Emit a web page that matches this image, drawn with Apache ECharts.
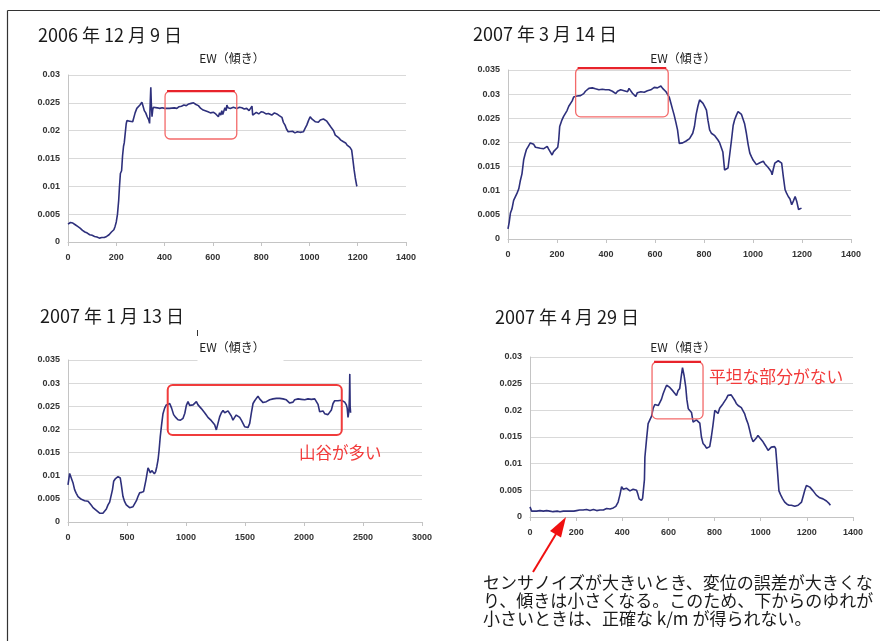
<!DOCTYPE html>
<html>
<head>
<meta charset="utf-8">
<script src="https://cdn.jsdelivr.net/npm/echarts@6/dist/echarts.min.js"></script>
<style>
html, body { margin: 0; padding: 0; background: #fff; }
#chart { width: 880px; height: 641px; }
</style>
</head>
<body>
<div id="chart"></div>
<script>
// EW slope traces, [sample index, slope]
const ew20061209 = [[0,0.0032],[5,0.0034],[10,0.0035],[15,0.0033],[20,0.0034],[30,0.0031],[40,0.0028],[50,0.0025],[60,0.0021],[70,0.0018],[80,0.0016],[90,0.0013],[100,0.0012],[110,0.001],[120,0.0009],[130,0.0007],[140,0.0008],[150,0.0008],[160,0.001],[170,0.0013],[180,0.0018],[190,0.0022],[195,0.0028],[200,0.0036],[205,0.005],[210,0.0075],[213,0.0098],[217,0.0123],[222,0.0128],[226,0.0155],[230,0.0172],[233,0.0178],[237,0.0195],[241,0.0212],[244,0.0218],[250,0.0215],[256,0.0217],[262,0.0214],[268,0.0216],[272,0.0218],[278,0.0232],[285,0.024],[292,0.0238],[298,0.0246],[306,0.0251],[311,0.0244],[316,0.0236],[322,0.0232],[328,0.0225],[334,0.022],[338,0.0213],[341,0.0255],[343,0.0278],[345,0.025],[348,0.0225],[351,0.0238],[354,0.0242],[360,0.0239],[370,0.0241],[380,0.024],[390,0.0241],[400,0.024],[420,0.024],[440,0.0241],[451,0.024],[460,0.0243],[470,0.0244],[480,0.0246],[490,0.0245],[500,0.0248],[510,0.0249],[520,0.025],[530,0.0247],[540,0.0245],[550,0.024],[560,0.0237],[568,0.0235],[580,0.0234],[590,0.0232],[603,0.0233],[612,0.023],[623,0.0225],[628,0.0232],[633,0.0228],[637,0.0236],[641,0.0229],[644,0.023],[650,0.0241],[655,0.0236],[658,0.0246],[663,0.0241],[668,0.0244],[672,0.024],[680,0.0241],[685,0.0242],[692,0.0239],[699,0.024],[710,0.0242],[720,0.0241],[730,0.0239],[740,0.024],[750,0.0236],[758,0.0235],[762,0.0244],[765,0.0228],[770,0.023],[780,0.0233],[790,0.023],[800,0.0234],[810,0.0233],[820,0.023],[830,0.0231],[844,0.0228],[855,0.0232],[865,0.023],[875,0.0227],[886,0.0224],[892,0.0215],[899,0.021],[905,0.0203],[912,0.0198],[920,0.0197],[930,0.0199],[940,0.0196],[950,0.0198],[961,0.0197],[968,0.02],[975,0.0198],[982,0.0204],[989,0.021],[996,0.0218],[1003,0.0225],[1010,0.0221],[1017,0.022],[1025,0.0216],[1031,0.0218],[1037,0.0215],[1045,0.0219],[1052,0.0217],[1058,0.0221],[1065,0.022],[1072,0.0217],[1079,0.0215],[1088,0.0207],[1100,0.02],[1107,0.0192],[1114,0.019],[1122,0.0187],[1130,0.0183],[1141,0.018],[1150,0.0178],[1156,0.0174],[1162,0.0175],[1168,0.017],[1175,0.0165],[1180,0.0148],[1185,0.013],[1190,0.0115],[1196,0.0101],[1198,0.01]];

const ew20070314 = [[0,0.0021],[5,0.0035],[10,0.0054],[16,0.0062],[23,0.008],[30,0.0084],[37,0.0095],[44,0.0104],[50,0.012],[57,0.0135],[64,0.0164],[70,0.0176],[75,0.0185],[83,0.0192],[91,0.0199],[98,0.0203],[105,0.0196],[112,0.019],[120,0.0189],[132,0.0188],[140,0.0186],[146,0.0187],[153,0.0185],[160,0.0192],[166,0.0186],[173,0.018],[180,0.0174],[186,0.0181],[193,0.0185],[203,0.019],[207,0.0205],[211,0.0233],[219,0.0245],[227,0.0254],[235,0.0258],[241,0.0266],[248,0.0275],[255,0.0279],[262,0.0286],[268,0.0294],[275,0.0297],[282,0.0296],[289,0.0298],[296,0.0297],[303,0.03],[309,0.0301],[316,0.0306],[323,0.0309],[330,0.0312],[337,0.0309],[344,0.0313],[350,0.031],[357,0.0311],[364,0.0311],[371,0.0309],[378,0.0311],[385,0.031],[392,0.0312],[398,0.0309],[405,0.031],[412,0.0309],[419,0.0307],[426,0.0306],[433,0.0305],[440,0.0301],[447,0.0306],[453,0.0304],[460,0.0309],[467,0.0305],[474,0.0307],[481,0.0303],[488,0.0305],[494,0.0312],[501,0.031],[508,0.0302],[514,0.0304],[521,0.0295],[528,0.0303],[535,0.0302],[542,0.0305],[549,0.0303],[556,0.0304],[562,0.0302],[569,0.0307],[576,0.0305],[583,0.0309],[590,0.0311],[597,0.0314],[604,0.0312],[610,0.0313],[617,0.0315],[624,0.0317],[631,0.0312],[638,0.0312],[645,0.0305],[651,0.0302],[658,0.0294],[665,0.0281],[672,0.0268],[678,0.0257],[685,0.0242],[692,0.0226],[699,0.0198],[706,0.0196],[713,0.0199],[720,0.02],[727,0.0203],[734,0.0205],[741,0.0208],[747,0.0212],[754,0.0219],[761,0.0233],[768,0.0258],[775,0.0275],[782,0.0288],[789,0.0284],[796,0.0281],[803,0.0274],[810,0.0267],[816,0.0246],[823,0.0226],[830,0.0219],[837,0.0218],[844,0.0214],[850,0.0212],[857,0.0205],[864,0.0199],[871,0.0198],[877,0.018],[884,0.0143],[891,0.0146],[898,0.0147],[905,0.0175],[912,0.0204],[919,0.0235],[925,0.0247],[932,0.0256],[939,0.0264],[946,0.0262],[953,0.0258],[960,0.0254],[966,0.0238],[973,0.0219],[980,0.0196],[987,0.0178],[994,0.017],[1001,0.0163],[1007,0.016],[1014,0.0154],[1021,0.015],[1028,0.0158],[1035,0.0162],[1042,0.0161],[1048,0.0156],[1055,0.0154],[1062,0.0148],[1069,0.0147],[1074,0.014],[1078,0.0133],[1083,0.0145],[1089,0.0157],[1096,0.0161],[1103,0.0162],[1110,0.0159],[1117,0.0157],[1124,0.0128],[1131,0.0102],[1137,0.0095],[1144,0.0088],[1151,0.0083],[1158,0.0071],[1165,0.0079],[1172,0.0088],[1179,0.0077],[1186,0.0061],[1193,0.0065],[1198,0.0064]];

const ew20070113 = [[0,0.008],[14,0.0105],[28,0.0102],[42,0.0085],[56,0.007],[70,0.0062],[85,0.0055],[100,0.0052],[113,0.0049],[127,0.0048],[141,0.0046],[155,0.005],[170,0.0045],[184,0.0041],[198,0.0036],[212,0.0031],[226,0.0027],[240,0.0025],[254,0.0023],[268,0.0019],[282,0.0016],[296,0.0019],[311,0.0019],[325,0.0028],[339,0.0037],[353,0.0043],[367,0.0047],[377,0.007],[387,0.0088],[400,0.0093],[412,0.0095],[424,0.0098],[434,0.0098],[443,0.0095],[452,0.008],[466,0.0055],[480,0.0044],[494,0.0037],[508,0.0033],[522,0.0031],[537,0.003],[551,0.0033],[565,0.0037],[580,0.0046],[593,0.0055],[607,0.0063],[624,0.0064],[641,0.0066],[660,0.009],[678,0.0117],[688,0.0112],[698,0.0106],[710,0.0111],[720,0.0109],[732,0.0104],[743,0.0109],[753,0.012],[763,0.0134],[772,0.0155],[782,0.0185],[793,0.021],[805,0.0234],[819,0.0246],[833,0.0253],[848,0.0255],[862,0.0256],[878,0.0246],[895,0.0232],[913,0.0226],[932,0.0221],[953,0.022],[975,0.0224],[990,0.0235],[1003,0.0252],[1017,0.026],[1031,0.0252],[1045,0.0249],[1060,0.0253],[1074,0.0255],[1088,0.026],[1102,0.0253],[1116,0.0249],[1130,0.0245],[1144,0.0241],[1158,0.0236],[1172,0.0231],[1186,0.0226],[1200,0.0222],[1215,0.0219],[1229,0.0217],[1243,0.021],[1257,0.0199],[1271,0.0213],[1285,0.0227],[1300,0.0236],[1314,0.0241],[1328,0.0236],[1342,0.0234],[1356,0.024],[1370,0.0238],[1384,0.0229],[1398,0.022],[1412,0.0226],[1426,0.0231],[1441,0.0234],[1455,0.0226],[1469,0.022],[1483,0.0213],[1497,0.0206],[1511,0.0202],[1525,0.0204],[1540,0.0213],[1554,0.0236],[1568,0.0256],[1582,0.0262],[1596,0.0266],[1610,0.0272],[1624,0.0266],[1638,0.0262],[1653,0.0258],[1667,0.0262],[1681,0.026],[1695,0.0263],[1709,0.0264],[1723,0.0262],[1737,0.0266],[1752,0.0269],[1766,0.0267],[1780,0.0265],[1794,0.0267],[1808,0.0264],[1822,0.0266],[1836,0.0263],[1850,0.0264],[1864,0.026],[1879,0.0257],[1893,0.0253],[1907,0.0259],[1921,0.0264],[1935,0.0264],[1950,0.0266],[1964,0.0263],[1978,0.0265],[1992,0.0267],[2006,0.0264],[2020,0.0267],[2034,0.0266],[2048,0.0268],[2063,0.0265],[2077,0.0267],[2091,0.0266],[2105,0.0264],[2119,0.0254],[2133,0.0238],[2147,0.0236],[2161,0.024],[2175,0.0234],[2189,0.0236],[2203,0.0232],[2218,0.0231],[2232,0.0242],[2246,0.0256],[2260,0.0262],[2274,0.0264],[2288,0.0262],[2302,0.0266],[2317,0.0263],[2331,0.0264],[2345,0.0259],[2359,0.0253],[2366,0.0246],[2373,0.0226],[2380,0.0238],[2385,0.0268],[2388,0.032],[2391,0.025],[2395,0.0236]];

const ew20070429 = [[0,0.0019],[7,0.0011],[15,0.0012],[29,0.0011],[43,0.0012],[58,0.0011],[72,0.0012],[86,0.0011],[100,0.001],[108,0.0009],[118,0.0011],[130,0.001],[144,0.0011],[160,0.0011],[175,0.0011],[190,0.0011],[202,0.0012],[215,0.0013],[230,0.0013],[245,0.0014],[260,0.0012],[275,0.0014],[289,0.0012],[303,0.0013],[318,0.0013],[332,0.0016],[347,0.0015],[361,0.0017],[372,0.002],[382,0.0028],[390,0.0042],[397,0.0057],[404,0.0052],[411,0.005],[418,0.0054],[426,0.0053],[433,0.0049],[440,0.0047],[447,0.0052],[455,0.0051],[462,0.005],[468,0.0042],[473,0.0034],[478,0.0036],[483,0.0031],[488,0.0035],[493,0.0037],[496,0.007],[498,0.0112],[505,0.0145],[512,0.0175],[520,0.0178],[527,0.0189],[534,0.0204],[541,0.0211],[548,0.0213],[556,0.0209],[563,0.0208],[570,0.0221],[577,0.0231],[585,0.024],[592,0.0247],[599,0.0244],[606,0.0243],[613,0.0241],[620,0.0236],[628,0.0233],[635,0.0228],[642,0.0237],[649,0.0241],[655,0.0262],[661,0.028],[668,0.0265],[675,0.0244],[680,0.022],[686,0.0203],[693,0.02],[700,0.0196],[707,0.0178],[714,0.018],[721,0.0182],[729,0.0183],[736,0.0176],[743,0.015],[750,0.0138],[758,0.0134],[765,0.0129],[772,0.0126],[779,0.0132],[786,0.015],[793,0.0172],[801,0.02],[808,0.0197],[815,0.0194],[822,0.0204],[829,0.0206],[836,0.0212],[843,0.0215],[851,0.0222],[858,0.0228],[865,0.0226],[872,0.0229],[880,0.0226],[887,0.0219],[894,0.0213],[902,0.0209],[909,0.0207],[916,0.0205],[923,0.0203],[930,0.0194],[937,0.0184],[945,0.0175],[952,0.0163],[959,0.015],[967,0.0141],[974,0.0142],[981,0.0148],[988,0.0153],[995,0.0149],[1003,0.0146],[1010,0.0141],[1017,0.0136],[1024,0.0131],[1032,0.0125],[1039,0.0128],[1046,0.0131],[1053,0.0131],[1060,0.0132],[1065,0.0128],[1072,0.009],[1079,0.0049],[1086,0.0042],[1094,0.0035],[1104,0.0028],[1114,0.0024],[1123,0.0022],[1133,0.0022],[1140,0.0019],[1148,0.002],[1155,0.0021],[1162,0.0022],[1170,0.0025],[1177,0.0028],[1184,0.0039],[1191,0.005],[1198,0.0059],[1205,0.0057],[1213,0.0056],[1220,0.0054],[1227,0.0049],[1234,0.0046],[1241,0.0041],[1248,0.004],[1256,0.0036],[1263,0.0034],[1270,0.0034],[1278,0.0032],[1285,0.003],[1292,0.0028],[1297,0.0025],[1302,0.0022]];

// Panel order: top-left, top-right, bottom-left, bottom-right
const panelSeries = [ew20061209, ew20070314, ew20070113, ew20070429];
const dateTitles = ['2006 年 12 月 9 日', '2007 年 3 月 14 日', '2007 年 1 月 13 日', '2007 年 4 月 29 日'];
const panelTitle = 'EW（傾き）';
const xMaxes = [1400, 1400, 3000, 1400];
const xSteps = [200, 200, 500, 200];
const yMaxes = [0.03, 0.035, 0.035, 0.03];
const yStep = 0.005;

// Highlighted stretches in data units: [x0, yTop, x1, yBottom]
const highlightRanges = [
  [402, 0.0271, 699, 0.0185],
  [276, 0.0354, 654, 0.0253],
  [845, 0.0296, 2320, 0.0188],
  [529, 0.0291, 750, 0.0184]
];
const noteBottomLeft = '山谷が多い';
const noteBottomRight = '平坦な部分がない';
const captionLines = [
  'センサノイズが大きいとき、変位の誤差が大きくな',
  'り、傾きは小さくなる。このため、下からのゆれが',
  '小さいときは、正確な k/m が得られない。'
];

// Layout
const grids = [
  { left: 68, top: 75, width: 338, height: 167 },
  { left: 508, top: 70, width: 343, height: 169 },
  { left: 68, top: 360, width: 354, height: 162 },
  { left: 530, top: 357, width: 323, height: 160 }
];
const dateTitlePos = [[38, 35], [473, 34], [40, 316], [495, 317]];
const ewTitlePos = [[232, 58], [683, 58], [232, 347], [683, 347]];

const cjkFont = '"Noto Sans CJK JP", "Noto Sans", sans-serif';
const tickFont = '"Liberation Sans", Arial, sans-serif';
const lineColor = '#2e307c';
const gridColor = '#d9d9d9';
const axisColor = '#c4c4c4';
const noteRed = '#f23a3a';

const chart = echarts.init(document.getElementById('chart'), null, { renderer: 'canvas' });

const option = {
  animation: false,
  backgroundColor: '#ffffff',
  grid: grids.map(g => Object.assign({ containLabel: false }, g)),
  xAxis: grids.map((g, i) => ({
    type: 'value',
    gridIndex: i,
    min: 0,
    max: xMaxes[i],
    interval: xSteps[i],
    axisLine: { show: true, onZero: false, lineStyle: { color: axisColor, width: 1 } },
    axisTick: { show: true, length: 4, lineStyle: { color: axisColor } },
    splitLine: { show: false },
    axisLabel: {
      fontSize: 9, fontWeight: 'bold', color: '#333', fontFamily: tickFont, margin: 11,
      formatter: v => String(v)
    }
  })),
  yAxis: grids.map((g, i) => ({
    type: 'value',
    gridIndex: i,
    min: 0,
    max: yMaxes[i],
    interval: yStep,
    axisLine: { show: true, lineStyle: { color: axisColor, width: 1 } },
    axisTick: { show: false },
    splitLine: { show: true, lineStyle: { color: gridColor, width: 1 } },
    axisLabel: {
      fontSize: 9, fontWeight: 'bold', color: '#333', fontFamily: tickFont, margin: 8,
      formatter: v => String(parseFloat(v.toFixed(3)))
    }
  })),
  series: panelSeries.map((d, i) => ({
    type: 'line',
    xAxisIndex: i,
    yAxisIndex: i,
    data: d,
    showSymbol: false,
    symbol: 'none',
    lineStyle: { color: lineColor, width: 1.6 },
    z: 3
  }))
};

chart.setOption(option);

// Annotations: titles, highlight boxes, notes, arrow and caption
const gfx = [];

// outer frame (left and top edges)
gfx.push({ type: 'line', z: 50, shape: { x1: 7.5, y1: 10.5, x2: 880, y2: 10.5 }, style: { stroke: '#333', lineWidth: 1.2 } });
gfx.push({ type: 'line', z: 50, shape: { x1: 7.5, y1: 10.5, x2: 7.5, y2: 641 }, style: { stroke: '#333', lineWidth: 1.2 } });

// white patch behind the bottom-left panel heading
gfx.push({ type: 'rect', z: 40, shape: { x: 197.5, y: 336, width: 86, height: 26 }, style: { fill: '#fff' } });
gfx.push({ type: 'line', z: 41, shape: { x1: 197.5, y1: 330, x2: 197.5, y2: 336 }, style: { stroke: '#333', lineWidth: 1 } });

dateTitles.forEach((t, i) => {
  gfx.push({
    type: 'text', z: 60, x: dateTitlePos[i][0], y: dateTitlePos[i][1],
    style: { text: t, font: '18px ' + cjkFont, fill: '#1a1a1a', textVerticalAlign: 'middle', verticalAlign: 'middle', textAlign: 'left', align: 'left' }
  });
  gfx.push({
    type: 'text', z: 60, x: ewTitlePos[i][0], y: ewTitlePos[i][1],
    style: { text: panelTitle, font: '12px ' + cjkFont, fill: '#222', textVerticalAlign: 'middle', verticalAlign: 'middle', textAlign: 'center', align: 'center' }
  });
});

highlightRanges.forEach((r, i) => {
  const p0 = chart.convertToPixel({ xAxisIndex: i, yAxisIndex: i }, [r[0], r[1]]);
  const p1 = chart.convertToPixel({ xAxisIndex: i, yAxisIndex: i }, [r[2], r[3]]);
  const x = Math.min(p0[0], p1[0]), y = Math.min(p0[1], p1[1]);
  const w = Math.abs(p1[0] - p0[0]), h = Math.abs(p1[1] - p0[1]);
  const thick = i === 2;
  gfx.push({
    type: 'rect', z: 55,
    shape: { x: x, y: y, width: w, height: h, r: 5 },
    style: { fill: 'none', stroke: thick ? '#f03c3c' : '#f36a6a', lineWidth: thick ? 2 : 1.3 }
  });
  if (!thick) {
    gfx.push({
      type: 'line', z: 56,
      shape: { x1: x + 2, y1: y, x2: x + w - 2, y2: y },
      style: { stroke: '#e8232b', lineWidth: 2.2 }
    });
  }
});

gfx.push({
  type: 'text', z: 60, x: 299, y: 453,
  style: { text: noteBottomLeft, font: '16.5px ' + cjkFont, fill: noteRed, textVerticalAlign: 'middle', verticalAlign: 'middle' }
});
gfx.push({
  type: 'text', z: 60, x: 709, y: 377,
  style: { text: noteBottomRight, font: '16.8px ' + cjkFont, fill: noteRed, textVerticalAlign: 'middle', verticalAlign: 'middle' }
});

// arrow pointing at the flat low-noise stretch of the bottom-right panel
gfx.push({ type: 'line', z: 60, shape: { x1: 533, y1: 572, x2: 556, y2: 534 }, style: { stroke: '#f01010', lineWidth: 2 } });
gfx.push({ type: 'polygon', z: 60, shape: { points: [[566, 517], [561, 537.5], [550, 531]] }, style: { fill: '#f01010' } });

captionLines.forEach((line, k) => {
  gfx.push({
    type: 'text', z: 60, x: 483, y: 583 + k * 18,
    style: { text: line, font: '17px ' + cjkFont, fill: '#1a1a1a', textVerticalAlign: 'middle', verticalAlign: 'middle' }
  });
});

chart.setOption({ graphic: { elements: gfx } });
</script>
</body>
</html>
